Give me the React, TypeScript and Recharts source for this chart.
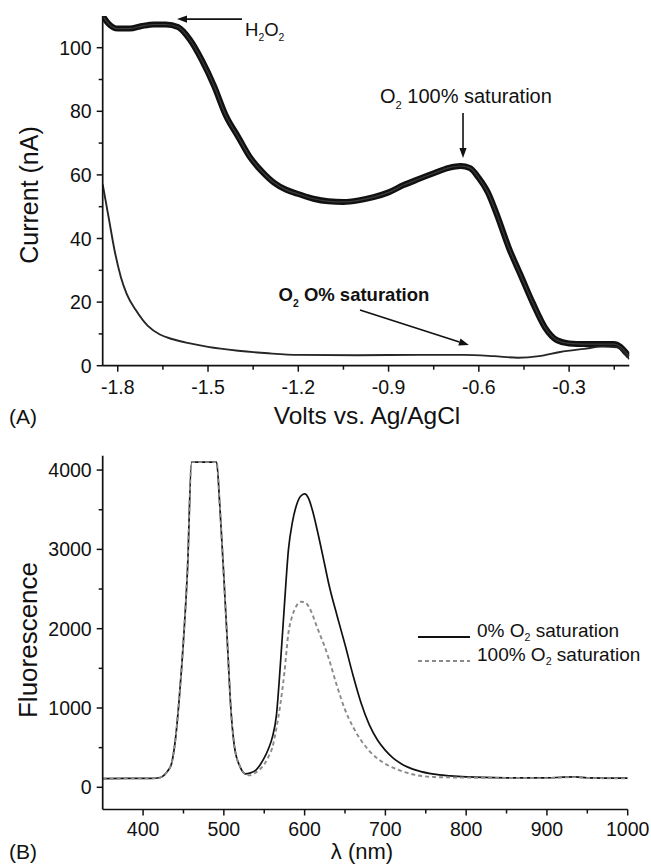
import React from 'react';
import { LineChart, Line, XAxis, YAxis, ReferenceLine, ReferenceDot, Legend } from 'recharts';

const FONT = "Arial, 'Liberation Sans', Helvetica, sans-serif";
const INK = '#111';

// ---------- Panel A: cyclic voltammetry ----------
const cvVolts100 = [-1.85, -1.83, -1.8, -1.76, -1.72, -1.68, -1.64, -1.6, -1.56, -1.52, -1.48, -1.44, -1.4, -1.36, -1.32, -1.28, -1.24, -1.2, -1.15, -1.1, -1.05, -1.0, -0.95, -0.9, -0.85, -0.8, -0.75, -0.7, -0.66, -0.63, -0.6, -0.57, -0.54, -0.5, -0.46, -0.42, -0.38, -0.34, -0.3, -0.25, -0.2, -0.15, -0.13, -0.11, -0.1];
const cvCurrent100 = [110, 107.5, 106, 106, 106.8, 107.3, 107.3, 106.5, 102.5, 96, 88, 78.5, 72, 65.5, 61, 57.5, 55.3, 54, 52.5, 51.7, 51.5, 52, 53, 54.5, 56.8, 58.7, 60.5, 62.2, 62.8, 62.2, 59, 54.5, 47.5, 37, 28.3, 19.6, 12, 8, 7, 6.8, 6.8, 6.8, 6, 4, 3];
const cvVolts0 = [-1.85, -1.83, -1.81, -1.79, -1.77, -1.74, -1.7, -1.66, -1.62, -1.56, -1.5, -1.4, -1.3, -1.2, -1.0, -0.8, -0.65, -0.55, -0.47, -0.4, -0.33, -0.25, -0.19, -0.14, -0.12, -0.1];
const cvCurrent0 = [57, 46.5, 36, 28, 22.5, 17.5, 12.5, 9.8, 8.4, 7, 5.9, 4.7, 3.9, 3.4, 3.3, 3.4, 3.4, 3, 2.5, 3, 4.3, 5.3, 6, 5.8, 4.5, 2];
const voltMajorTicks = [-1.8, -1.5, -1.2, -0.9, -0.6, -0.3];
const voltMinorTicks = [-1.65, -1.35, -1.05, -0.75, -0.45, -0.15];
const currentMajorTicks = [0, 20, 40, 60, 80, 100];
const currentMinorTicks = [10, 30, 50, 70, 90];

// ---------- Panel B: fluorescence spectra ----------
const wavelengths = [350, 380, 410, 420, 425, 430, 435, 440, 445, 450, 455, 460, 475, 491, 495, 500, 505, 508, 513, 520, 527, 532, 540, 545, 550, 555, 560, 565, 570, 575, 580, 585, 590, 595, 600, 605, 610, 615, 620, 625, 630, 640, 650, 660, 670, 680, 690, 700, 710, 720, 740, 760, 780, 800, 850, 900, 920, 935, 950, 1000];
const fluor0 = [110, 112, 112, 120, 145, 200, 290, 600, 1150, 1850, 2750, 4100, 4100, 4100, 3550, 2650, 1700, 1100, 520, 260, 170, 178, 220, 285, 370, 480, 630, 900, 1550, 2300, 3000, 3350, 3560, 3670, 3700, 3640, 3480, 3270, 3040, 2800, 2560, 2170, 1800, 1410, 1060, 790, 600, 465, 365, 295, 210, 165, 145, 132, 120, 118, 128, 132, 120, 115];
const fluor100 = [110, 112, 112, 120, 145, 200, 290, 600, 1150, 1850, 2750, 4100, 4100, 4100, 3550, 2650, 1700, 1100, 520, 260, 165, 150, 190, 230, 290, 380, 500, 740, 1050, 1450, 1950, 2170, 2290, 2340, 2335, 2280, 2170, 2030, 1900, 1770, 1620, 1280, 980, 760, 590, 460, 365, 295, 245, 205, 150, 130, 125, 122, 118, 116, 125, 128, 118, 112];
const lambdaMajorTicks = [400, 500, 600, 700, 800, 900, 1000];
const lambdaMinorTicks = [450, 550, 650, 750, 850, 950];
const fluorMajorTicks = [0, 1000, 2000, 3000, 4000];
const fluorMinorTicks = [500, 1500, 2500, 3500];
const seriesNames = ['0% O₂ saturation', '100% O₂ saturation'];

const cvData100 = cvVolts100.map((v, k) => ({ v, cur: cvCurrent100[k] }));
const cvData0 = cvVolts0.map((v, k) => ({ v, cur: cvCurrent0[k] }));
const flData = wavelengths.map((w, k) => ({ w, f0: fluor0[k], f100: fluor100[k] }));

const chem = (text: string, size: number, shift = 0.3) => {
  const parts = text.split('₂');
  const out: any[] = [];
  parts.forEach((p, k) => {
    if (k > 0) out.push(<tspan key={'s' + k} fontSize={size * 0.56} dy={size * shift}>2</tspan>);
    if (p.length) out.push(<tspan key={'p' + k} dy={k > 0 ? -size * shift : 0}>{p}</tspan>);
  });
  return out;
};

function makeXTick(majors: number[], fmt: (v: number) => string, labelDy: number) {
  return (props: any) => {
    const { x, y, payload } = props;
    const major = majors.includes(payload.value);
    const len = major ? 6 : 4;
    return (
      <g>
        <line x1={x} x2={x} y1={y} y2={y + len} stroke={INK} strokeWidth={1.5} />
        {major && (
          <text x={x} y={y + labelDy} textAnchor="middle" fontSize={19.5} fontFamily={FONT} fill={INK}>
            {fmt(payload.value)}
          </text>
        )}
      </g>
    );
  };
}

function makeYTick(majors: number[]) {
  return (props: any) => {
    const { x, y, payload } = props;
    const major = majors.includes(payload.value);
    const len = major ? 6 : 4;
    return (
      <g>
        <line x1={x - len} x2={x} y1={y} y2={y} stroke={INK} strokeWidth={1.5} />
        {major && (
          <text x={x - 11} y={y} dy="0.36em" textAnchor="end" fontSize={19.5} fontFamily={FONT} fill={INK}>
            {String(payload.value)}
          </text>
        )}
      </g>
    );
  };
}

const ArrowShape = (props: any) => {
  const { x1, y1, x2, y2 } = props;
  const ang = Math.atan2(y2 - y1, x2 - x1);
  const L = 10;
  const W = 3.6;
  const bx = x2 - L * Math.cos(ang);
  const by = y2 - L * Math.sin(ang);
  const px = -Math.sin(ang) * W;
  const py = Math.cos(ang) * W;
  return (
    <g>
      <line x1={x1} y1={y1} x2={bx} y2={by} stroke={INK} strokeWidth={1.6} />
      <polygon points={`${x2},${y2} ${bx + px},${by + py} ${bx - px},${by - py}`} fill={INK} />
    </g>
  );
};

const makeTextShape = (text: string, size: number, anchor: string, bold = false) => (p: any) => (
  <text x={p.cx} y={p.cy} textAnchor={anchor} fontSize={size} fontFamily={FONT} fontWeight={bold ? 'bold' : 'normal'} fill={INK}>
    {chem(text, size)}
  </text>
);

const FluorLegend = (props: any) => {
  const payload = props.payload || [];
  return (
    <svg width={241} height={52} style={{ overflow: 'visible' }}>
      {payload.map((entry: any, idx: number) => {
        const y = 12 + idx * 24;
        const dash = entry.payload && entry.payload.strokeDasharray;
        return (
          <g key={idx}>
            <line x1={8} x2={60} y1={y} y2={y} stroke={entry.color} strokeWidth={1.8} strokeDasharray={dash} />
            <text x={67} y={y} dy="0.36em" fontSize={19} fontFamily={FONT} fill={INK}>
              {chem(String(entry.value), 19, 0.2)}
            </text>
          </g>
        );
      })}
    </svg>
  );
};

const axisLineStyle = { stroke: INK, strokeWidth: 1.7 };

export default function App() {
  return (
    <div style={{ position: 'absolute', left: 0, top: 0, width: 651, height: 864, background: '#fff' }}>
      <div style={{ position: 'absolute', left: 0, top: 0 }}>
        <LineChart width={651} height={420} margin={{ top: 15.9, right: 21.7, bottom: 24.3, left: 0 }}>
          <XAxis
            dataKey="v"
            type="number"
            domain={[-1.85, -0.1]}
            allowDataOverflow
            ticks={[...voltMajorTicks, ...voltMinorTicks]}
            interval={0}
            tickSize={0}
            tickMargin={0}
            tickLine={false}
            axisLine={axisLineStyle}
            height={30}
            tick={makeXTick(voltMajorTicks, (v) => v.toFixed(1), 28)}
          />
          <YAxis
            type="number"
            domain={[0, 110]}
            allowDataOverflow
            ticks={[...currentMajorTicks, ...currentMinorTicks]}
            interval={0}
            tickSize={0}
            tickMargin={0}
            tickLine={false}
            axisLine={axisLineStyle}
            width={102.7}
            tick={makeYTick(currentMajorTicks)}
          />
          <Line data={cvData100} dataKey="cur" type="monotone" stroke="#111" strokeWidth={6} dot={false} isAnimationActive={false} />
          <Line data={cvData100} dataKey="cur" type="monotone" stroke="#3c3c3c" strokeWidth={1.2} dot={false} isAnimationActive={false} />
          <Line data={cvData0} dataKey="cur" type="monotone" stroke="#262626" strokeWidth={1.9} dot={false} isAnimationActive={false} />
          <ReferenceLine segment={[{ x: -1.387, y: 109 }, { x: -1.603, y: 109 }]} shape={ArrowShape} />
          <ReferenceDot x={-1.377} y={103.8} r={0} shape={makeTextShape('H₂O₂', 18.5, 'start')} />
          <ReferenceLine segment={[{ x: -0.6526, y: 79.5 }, { x: -0.6526, y: 65.3 }]} shape={ArrowShape} />
          <ReferenceDot x={-0.643} y={82.6} r={0} shape={makeTextShape('O₂ 100% saturation', 20, 'middle')} />
          <ReferenceLine segment={[{ x: -0.995, y: 17.5 }, { x: -0.633, y: 6.5 }]} shape={ArrowShape} />
          <ReferenceDot x={-1.015} y={20.3} r={0} shape={makeTextShape('O₂ O% saturation', 18.5, 'middle', true)} />
        </LineChart>
      </div>
      <div style={{ position: 'absolute', left: 0, top: 430 }}>
        <LineChart width={651} height={434} data={flData} margin={{ top: 25.8, right: 23.3, bottom: 24.5, left: 0 }}>
          <XAxis
            dataKey="w"
            type="number"
            domain={[350, 1000]}
            allowDataOverflow
            ticks={[...lambdaMajorTicks, ...lambdaMinorTicks]}
            interval={0}
            tickSize={0}
            tickMargin={0}
            tickLine={false}
            axisLine={axisLineStyle}
            height={30}
            tick={makeXTick(lambdaMajorTicks, (v) => String(v), 26)}
          />
          <YAxis
            type="number"
            domain={[-280, 4180]}
            allowDataOverflow
            ticks={[...fluorMajorTicks, ...fluorMinorTicks]}
            interval={0}
            tickSize={0}
            tickMargin={0}
            tickLine={false}
            axisLine={axisLineStyle}
            width={102.7}
            tick={makeYTick(fluorMajorTicks)}
          />
          <Legend
            layout="horizontal"
            verticalAlign="middle"
            align="center"
            content={FluorLegend}
            wrapperStyle={{ position: 'absolute', left: 410, top: 195, width: 241, height: 52 }}
          />
          <Line name={seriesNames[0]} dataKey="f0" type="monotone" stroke="#111" strokeWidth={1.7} dot={false} isAnimationActive={false} />
          <Line name={seriesNames[1]} dataKey="f100" type="monotone" stroke="#8a8a8a" strokeWidth={1.9} strokeDasharray="4 3" dot={false} isAnimationActive={false} />
        </LineChart>
      </div>
      <svg width={651} height={864} style={{ position: 'absolute', left: 0, top: 0, pointerEvents: 'none' }}>
        <g fontFamily={FONT} fill={INK}>
          <text x={9} y={424} fontSize={21}>(A)</text>
          <text x={367} y={424} fontSize={24.5} textAnchor="middle">Volts vs. Ag/AgCl</text>
          <text x={38} y={195} fontSize={25} textAnchor="middle" transform="rotate(-90 38 195)">Current (nA)</text>
          <text x={9} y={859} fontSize={21}>(B)</text>
          <text x={362} y={859} fontSize={22} textAnchor="middle">λ (nm)</text>
          <text x={37} y={640} fontSize={26} textAnchor="middle" transform="rotate(-90 37 640)">Fluorescence</text>
        </g>
      </svg>
    </div>
  );
}
